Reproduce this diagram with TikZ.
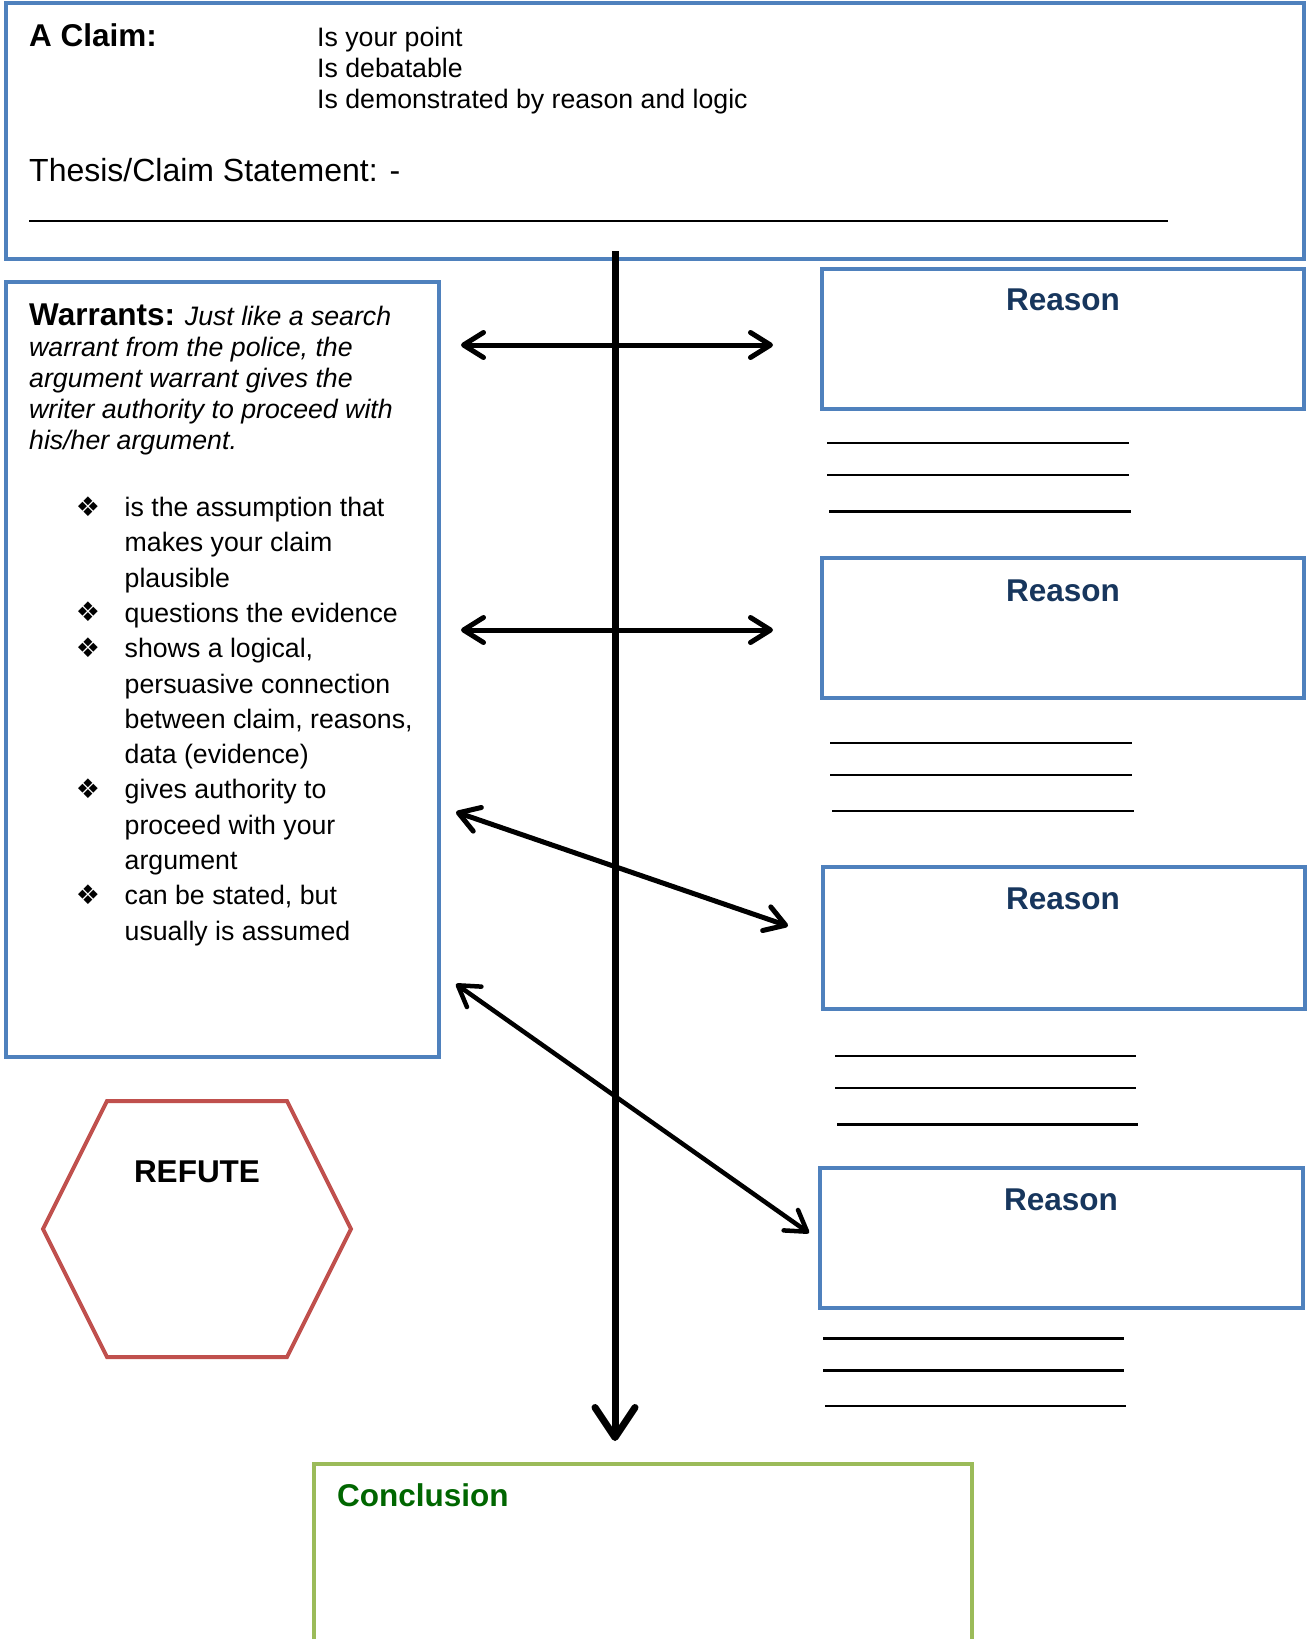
\documentclass[tikz,border=0pt]{standalone}
\usepackage{fontspec}
\setmainfont{Liberation Sans}
\newfontfamily\symfont{DejaVu Sans}
\usetikzlibrary{arrows.meta}
\definecolor{boxblue}{RGB}{79,129,189}
\definecolor{reasonblue}{RGB}{23,54,93}
\definecolor{hexred}{RGB}{192,80,77}
\definecolor{concgreen}{RGB}{155,187,89}
\definecolor{concdark}{RGB}{0,102,0}
\newcommand{\bigbold}{\fontsize{31.5}{36}\selectfont\bfseries}
\newcommand{\bodyfont}{\fontsize{26.7}{31}\selectfont}
\newcommand{\thesisfont}{\fontsize{32}{37}\selectfont}
\begin{document}
\begin{tikzpicture}[x=1pt,y=-1pt,
  bluebox/.style={draw=boxblue, line width=4pt},
  txt/.style={anchor=base west, inner sep=0pt, font=\bodyfont},
  reasonlbl/.style={anchor=base, inner sep=0pt, font=\bigbold, text=reasonblue},
  writeline/.style={draw=black, line width=2.4pt},
  spinearrow/.style={line width=7pt, -{Straight Barb[round,length=30pt,width=40pt]}},
  twoway/.style={line width=5pt, {Straight Barb[round,length=20pt,width=25pt]}-{Straight Barb[round,length=20pt,width=25pt]}}
]
\useasboundingbox (0,0) rectangle (1307,1639);
\fill[white] (0,0) rectangle (1307,1639);

% ---- Claim box ----
\draw[bluebox] (6,3) rectangle (1304,259);
\node[txt, font=\bigbold] (claimlbl) at (29,46) {A Claim:};
\node[txt] (pt1) at (317,46) {Is your point};
\node[txt] (pt2) at (317,77) {Is debatable};
\node[txt] (pt3) at (317,108) {Is demonstrated by reason and logic};
\node[txt, font=\thesisfont] (thesis) at (29,181) {Thesis/Claim Statement: -};
\draw[line width=2.5pt] (29,221) -- (1168,221);

% ---- Warrants box ----
\draw[bluebox] (6,282) rectangle (439,1057);
\node[txt] (w1) at (29,325) {{\bigbold Warrants:} \itshape Just like a search};
\node[txt, font=\bodyfont\itshape] (w2) at (29,356) {warrant from the police, the};
\node[txt, font=\bodyfont\itshape] (w3) at (29,387) {argument warrant gives the};
\node[txt, font=\bodyfont\itshape] (w4) at (29,418) {writer authority to proceed with};
\node[txt, font=\bodyfont\itshape] (w5) at (29,449) {his/her argument.};

\foreach \t [count=\i] in {is the assumption that, makes your claim, plausible,
  questions the evidence, {shows a logical,}, persuasive connection,
  {between claim, reasons,}, data (evidence), gives authority to,
  proceed with your, argument, {can be stated, but}, usually is assumed}{
  \node[txt] (b\i) at (124.5,{516.5+35.3*(\i-1)}) {\t};
}
\foreach \i in {1,4,5,9,12}{
  \node[anchor=base, inner sep=0pt, font=\symfont\fontsize{27}{30}\selectfont] (bul\i) at (88,{516+35.3*(\i-1)}) {❖};
}

% ---- Reason boxes ----
\draw[bluebox] (822,269) rectangle (1304,409);
\node[reasonlbl] (r1) at (1063,310) {Reason};
\draw[bluebox] (822,558) rectangle (1304,698);
\node[reasonlbl] (r2) at (1063,601) {Reason};
\draw[bluebox] (823,867) rectangle (1305,1009);
\node[reasonlbl] (r3) at (1063,909) {Reason};
\draw[bluebox] (820,1168) rectangle (1303,1308);
\node[reasonlbl] (r4) at (1061,1210) {Reason};

% ---- writing lines ----
\draw[writeline] (827,443) -- (1129,443);
\draw[writeline] (827,475) -- (1129,475);
\draw[writeline, line width=3pt] (829,511) -- (1131,511);
\draw[writeline] (830,743) -- (1132,743);
\draw[writeline] (830,775) -- (1132,775);
\draw[writeline] (832,811) -- (1134,811);
\draw[writeline] (835,1056) -- (1136,1056);
\draw[writeline] (835,1088) -- (1136,1088);
\draw[writeline, line width=3pt] (837,1124) -- (1138,1124);
\draw[writeline, line width=3pt] (823,1338) -- (1124,1338);
\draw[writeline, line width=3pt] (823,1370) -- (1124,1370);
\draw[writeline] (825,1406) -- (1126,1406);

% ---- Refute hexagon ----
\draw[draw=hexred, line width=4pt, line join=miter]
  (43,1229) -- (107,1101) -- (287,1101) -- (351,1229) -- (287,1357) -- (107,1357) -- cycle;
\node[anchor=base, inner sep=0pt, font=\bigbold] (refute) at (197,1182) {REFUTE};

% ---- Conclusion box ----
\draw[draw=concgreen, line width=4pt] (314,1650) -- (314,1464) -- (972,1464) -- (972,1650);
\node[txt, font=\bigbold, text=concdark] (concl) at (337,1506) {Conclusion};

% ---- Arrows ----
\coordinate (spinetop) at (615,251);
\coordinate (spinetip) at (615,1441);
\draw[spinearrow] (spinetop) -- (spinetip);

\coordinate (a1l) at (461,345);
\coordinate (a1r) at (773,345);
\draw[twoway] (a1l) -- (a1r);
\coordinate (a2l) at (461,630);
\coordinate (a2r) at (773,630);
\draw[twoway] (a2l) -- (a2r);
\coordinate (a3l) at (456,812);
\coordinate (a3r) at (788,926);
\draw[twoway] (a3l) -- (a3r);
\coordinate (a4l) at (456,984);
\coordinate (a4r) at (809,1233);
\draw[twoway, line width=4.5pt] (a4l) -- (a4r);
\end{tikzpicture}
\end{document}
